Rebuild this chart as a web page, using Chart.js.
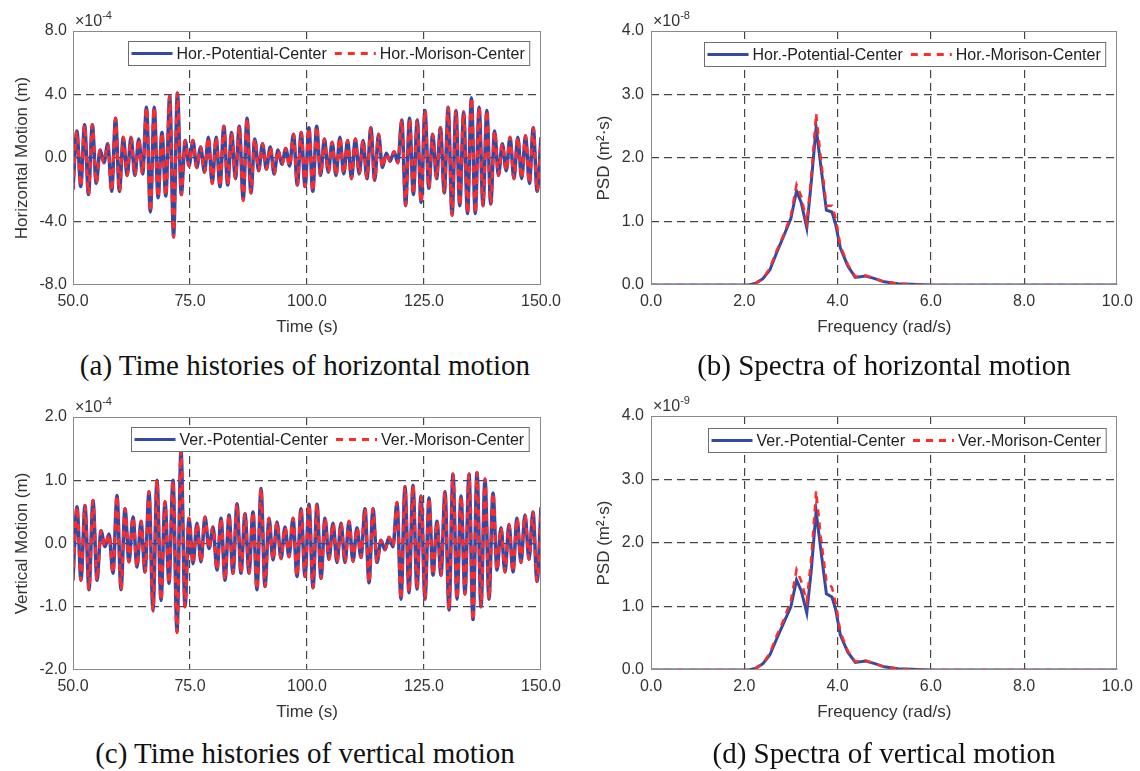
<!DOCTYPE html>
<html>
<head>
<meta charset="utf-8">
<script src="https://cdn.jsdelivr.net/npm/chart.js@4.4.0/dist/chart.umd.min.js"></script>
<style>
  body { margin: 0; background: #fff; }
  #page { position: relative; width: 1140px; height: 771px; overflow: hidden; background: #fff; }
  canvas { position: absolute; }
  .caption {
    position: absolute; width: 560px; text-align: center; white-space: nowrap;
    font-family: "Liberation Serif", "Times New Roman", serif; font-size: 29px; line-height: 30px; color: #111;
  }
</style>
</head>
<body>
<div id="page">
  <canvas id="horTimeChart" width="570" height="345" style="left:0px;top:0px"></canvas>
  <canvas id="horPsdChart" width="580" height="345" style="left:560px;top:0px"></canvas>
  <canvas id="verTimeChart" width="570" height="345" style="left:0px;top:385px"></canvas>
  <canvas id="verPsdChart" width="580" height="345" style="left:560px;top:385px"></canvas>
  <div class="caption" style="left:25px;top:350px">(a) Time histories of horizontal motion</div>
  <div class="caption" style="left:604px;top:350px">(b) Spectra of horizontal motion</div>
  <div class="caption" style="left:25px;top:738px">(c) Time histories of vertical motion</div>
  <div class="caption" style="left:604px;top:738px">(d) Spectra of vertical motion</div>
</div>
<script>
const horPotential = [
  -2.0, 1.7, -1.8, 2.1, -2.3, 2.1, -1.6, 0.5, -0.3, 0.9,
  -2.1, 2.5, -2.1, 1.3, -1.1, 1.3, -1.1, 1.2, -1.0, 3.2,
  -3.4, 3.2, -2.5, 1.6, -2.4, 3.9, -4.9, 4.1, -2.3, 1.1,
  -0.5, 1.1, -0.6, 0.7, -0.9, 1.3, -1.6, 1.3, -1.8, 2.0,
  -1.7, 1.6, -1.3, 2.0, -2.6, 2.5, -2.2, 1.2, -0.8, 0.9,
  -0.7, 0.7, -1.0, 0.5, -0.4, 0.6,
  -0.5, 1.5, -1.7, 1.6, -1.8, 1.9, -2.1, 2.0, -1.1, 1.2,
  -0.9, 1.0, -1.1, 1.3, -1.0, 1.1, -1.3, 1.2, -1.0, 1.1,
  -1.3, 1.9, -1.4, 1.5, -0.6, 0.3, -0.2, 0.4, -0.3, 2.4,
  -3.0, 2.5, -2.3, 2.4, -2.8, 3.0, -1.9, 1.5, -1.3, 1.9,
  -2.2, 3.2, -3.6, 3.0, -3.0, 2.9, -3.5, 3.8, -3.5, 3.2,
  -3.0, 3.0, -2.9, 1.7, -1.1, 0.9, -0.8, 1.3, -1.3, 1.3,
  -1.3, 1.4, -1.6, 1.9, -2.1, 1.3
];
const horMorison = [
  -2.0, 1.7, -1.8, 2.1, -2.3, 2.1, -1.6, 0.5, -0.3, 0.9,
  -2.1, 2.5, -2.1, 1.3, -1.1, 1.3, -1.1, 1.2, -1.0, 3.2,
  -3.4, 3.2, -2.5, 1.6, -2.4, 3.9, -5.0, 4.1, -2.3, 1.1,
  -0.5, 1.1, -0.6, 0.7, -0.9, 1.3, -1.6, 1.3, -1.8, 2.0,
  -1.7, 1.6, -1.3, 2.0, -2.7, 2.5, -2.2, 1.2, -0.8, 0.9,
  -0.7, 0.7, -1.0, 0.5, -0.4, 0.6,
  -0.5, 1.5, -1.7, 1.6, -1.8, 1.9, -2.1, 2.0, -1.1, 1.2,
  -0.9, 1.0, -1.1, 1.3, -1.0, 1.1, -1.3, 1.2, -1.0, 1.1,
  -1.3, 1.9, -1.4, 1.5, -0.6, 0.3, -0.2, 0.4, -0.3, 2.4,
  -3.0, 2.5, -2.3, 2.4, -2.8, 3.0, -1.9, 1.5, -1.3, 1.9,
  -2.2, 3.2, -3.6, 3.0, -3.0, 2.9, -3.5, 3.8, -3.5, 3.2,
  -3.0, 3.0, -2.9, 1.7, -1.1, 0.9, -0.8, 1.3, -1.3, 1.3,
  -1.3, 1.4, -1.6, 1.9, -2.1, 1.3
];
const verPotential = [
  -0.58, 0.58, -0.58, 0.6, -0.73, 0.68, -0.58, 0.2, -0.05, 0.15,
  -0.47, 0.76, -0.73, 0.55, -0.29, 0.42, -0.37, 0.35, -0.45, 0.82,
  -1.05, 1.0, -0.9, 0.66, -0.63, 1.0, -1.39, 1.47, -1.0, 0.4,
  -0.32, 0.32, -0.29, 0.42, -0.08, 0.26, -0.42, 0.4, -0.58, 0.45,
  -0.47, 0.63, -0.47, 0.47, -0.47, 0.5, -0.73, 0.87, -0.68, 0.4,
  -0.26, 0.34, -0.24, 0.26, -0.21,
  0.4, -0.52, 0.55, -0.52, 0.62, -0.7, 0.62, -0.55, 0.4, -0.25,
  0.32, -0.3, 0.32, -0.3, 0.35, -0.28, 0.25, -0.22, 0.55, -0.62,
  0.55, -0.3, 0.05, -0.1, 0.1, -0.05, 0.65, -0.88, 0.9, -0.78,
  0.92, -0.72, 0.75, -0.88, 0.72, -0.5, 0.35, -0.5, 0.82, -1.05,
  1.1, -0.88, 0.75, -0.8, 1.1, -1.2, 1.12, -1.0, 1.02, -0.88,
  0.8, -0.42, 0.25, -0.45, 0.3, -0.45, 0.4, -0.3, 0.45, -0.25,
  0.5, -0.6, 0.57
];
const verMorison = [
  -0.58, 0.58, -0.58, 0.6, -0.73, 0.68, -0.58, 0.2, -0.05, 0.15,
  -0.47, 0.76, -0.73, 0.55, -0.29, 0.42, -0.37, 0.35, -0.45, 0.82,
  -1.07, 1.0, -0.9, 0.66, -0.63, 1.0, -1.41, 1.47, -1.0, 0.4,
  -0.32, 0.32, -0.29, 0.42, -0.08, 0.26, -0.42, 0.4, -0.58, 0.45,
  -0.47, 0.63, -0.47, 0.47, -0.47, 0.5, -0.73, 0.87, -0.68, 0.4,
  -0.26, 0.34, -0.24, 0.26, -0.21,
  0.4, -0.52, 0.55, -0.52, 0.62, -0.7, 0.62, -0.55, 0.4, -0.25,
  0.32, -0.3, 0.32, -0.3, 0.35, -0.28, 0.25, -0.22, 0.55, -0.62,
  0.55, -0.3, 0.05, -0.1, 0.1, -0.05, 0.65, -0.88, 0.9, -0.78,
  0.92, -0.72, 0.75, -0.88, 0.72, -0.5, 0.35, -0.5, 0.82, -1.05,
  1.1, -0.88, 0.75, -0.8, 1.1, -1.22, 1.12, -1.0, 1.02, -0.88,
  0.8, -0.42, 0.25, -0.45, 0.3, -0.45, 0.4, -0.3, 0.45, -0.25,
  0.5, -0.6, 0.57
];

// Spectra: frequency (rad/s) and PSD values (x1e-8 for horizontal, x1e-9 for vertical)
const frequency = [0, 1.0, 2.0, 2.1, 2.25, 2.4, 2.55, 2.7, 2.85, 3.0, 3.12, 3.22, 3.34, 3.44, 3.54,
  3.64, 3.76, 3.88, 3.96, 4.06, 4.22, 4.38, 4.6, 4.8, 5.0, 5.3, 5.6, 6.0, 8.0, 10.0];
const horPsdPotential = [0, 0, 0, 0, 0.03, 0.1, 0.24, 0.52, 0.78, 1.05, 1.48, 1.3, 0.9, 1.65, 2.48,
  1.88, 1.18, 1.15, 0.95, 0.58, 0.3, 0.12, 0.14, 0.1, 0.05, 0.02, 0.01, 0, 0, 0];
const horPsdMorison = [0, 0, 0, 0, 0.03, 0.1, 0.27, 0.55, 0.8, 1.1, 1.58, 1.4, 0.98, 1.75, 2.7,
  2.0, 1.25, 1.25, 1.05, 0.62, 0.32, 0.13, 0.15, 0.1, 0.05, 0.02, 0.01, 0, 0, 0];
const verPsdPotential = [0, 0, 0, 0, 0.03, 0.1, 0.24, 0.5, 0.75, 1.0, 1.42, 1.25, 0.9, 1.6, 2.5,
  1.9, 1.2, 1.15, 0.95, 0.55, 0.28, 0.12, 0.14, 0.1, 0.05, 0.02, 0.01, 0, 0, 0];
const verPsdMorison = [0, 0, 0, 0, 0.03, 0.1, 0.27, 0.55, 0.8, 1.1, 1.58, 1.4, 1.08, 1.8, 2.82,
  2.1, 1.4, 1.3, 1.05, 0.6, 0.3, 0.13, 0.15, 0.1, 0.05, 0.02, 0.01, 0, 0, 0];

const xTicksTime = [50, 150, 25];
const xTicksFreq = [0, 10, 2];

const FONT = '"Liberation Sans", Arial, Helvetica, sans-serif';
const BLUE = '#3349a6';
const RED = '#ff2b2b';
const TEXT = '#333333';

Chart.defaults.font.family = FONT;

// evenly spaced sample times for a time history
function sampleTimes(values) {
  return values.map((v, i) => 50 + i * 100 / (values.length - 1));
}

function toPoints(xs, ys) {
  return xs.map((x, i) => ({ x: x, y: ys[i] }));
}

// Box around the plot, the x10^n label and a MATLAB-like legend
const framePlugin = {
  id: 'frame',
  afterDraw(chart, args, opts) {
    const ctx = chart.ctx;
    const a = chart.chartArea;
    ctx.save();
    ctx.strokeStyle = '#8a8a8a';
    ctx.lineWidth = 1;
    ctx.setLineDash([]);
    ctx.strokeRect(Math.round(a.left) + 0.5, Math.round(a.top) + 0.5, Math.round(a.width) - 1, Math.round(a.height) - 1);

    // exponent label
    ctx.fillStyle = TEXT;
    ctx.textBaseline = 'alphabetic';
    ctx.textAlign = 'left';
    ctx.font = '16px ' + FONT;
    ctx.fillText('\u00d710', a.left + 2, a.top - 5);
    const w = ctx.measureText('\u00d710').width;
    ctx.font = '11px ' + FONT;
    ctx.fillText(opts.exponent, a.left + 2 + w, a.top - 12);

    // legend
    ctx.font = '16px ' + FONT;
    const items = chart.data.datasets.map(ds => ({
      label: ds.label, color: ds.borderColor, dash: ds.borderDash || [], width: ctx.measureText(ds.label).width
    }));
    const lineLen = 41, gapLine = 4, gapItem = 8, padL = 3, padR = 5, h = 24;
    let total = padL + padR + gapItem * (items.length - 1);
    items.forEach(it => { total += lineLen + gapLine + it.width; });
    const x0 = Math.round(a.right - 12 - total) + 0.5;
    const y0 = Math.round(a.top + opts.legendTop) + 0.5;
    ctx.fillStyle = '#ffffff';
    ctx.fillRect(x0, y0, total, h);
    ctx.strokeStyle = '#6e6e6e';
    ctx.lineWidth = 1;
    ctx.strokeRect(x0, y0, total, h);
    let x = x0 + padL;
    const yc = y0 + h / 2;
    items.forEach(it => {
      ctx.strokeStyle = it.color;
      ctx.lineWidth = 3;
      ctx.setLineDash(it.dash);
      ctx.beginPath();
      ctx.moveTo(x, yc);
      ctx.lineTo(x + lineLen, yc);
      ctx.stroke();
      ctx.setLineDash([]);
      x += lineLen + gapLine;
      ctx.fillStyle = '#222';
      ctx.textBaseline = 'middle';
      ctx.fillText(it.label, x, yc + 1);
      x += it.width + gapItem;
    });
    ctx.restore();
  }
};

function makeChart(id, cfg) {
  const hideEdges = (min, max) => c =>
    (c.tick && (Math.abs(c.tick.value - min) < 1e-9 || Math.abs(c.tick.value - max) < 1e-9)) ? 'rgba(0,0,0,0)' : '#454545';

  return new Chart(document.getElementById(id), {
    type: 'line',
    data: {
      datasets: [
        {
          label: cfg.labels[0],
          data: toPoints(cfg.x1, cfg.y1),
          borderColor: BLUE,
          borderWidth: cfg.lineWidth + 0.5,
          pointRadius: 0,
          cubicInterpolationMode: cfg.smooth ? 'monotone' : 'default',
          tension: 0,
          order: 2,
        },
        {
          label: cfg.labels[1],
          data: toPoints(cfg.x2, cfg.y2),
          borderColor: RED,
          borderWidth: cfg.lineWidth,
          borderDash: [7, 6],
          pointRadius: 0,
          cubicInterpolationMode: cfg.smooth ? 'monotone' : 'default',
          tension: 0,
          order: 1,
        },
      ],
    },
    options: {
      responsive: false,
      animation: false,
      events: [],
      layout: { padding: { left: 0, top: cfg.top, right: cfg.right, bottom: 0 } },
      plugins: {
        legend: { display: false },
        tooltip: { enabled: false },
        frame: { exponent: cfg.exponent, legendTop: cfg.legendTop },
      },
      scales: {
        x: {
          type: 'linear',
          min: cfg.xTicks[0],
          max: cfg.xTicks[1],
          afterFit: s => { s.height = cfg.xHeight; },
          ticks: {
            stepSize: cfg.xTicks[2],
            padding: 7,
            color: TEXT,
            font: { size: 16 },
            maxRotation: 0,
            autoSkip: false,
            callback: v => v.toFixed(1),
          },
          grid: { color: hideEdges(cfg.xTicks[0], cfg.xTicks[1]), lineWidth: 1.2, drawTicks: false },
          border: { display: false, dash: [8, 5] },
          title: { display: true, text: cfg.xTitle, color: TEXT, font: { size: 17 }, padding: { top: 0, bottom: 7 } },
        },
        y: {
          min: cfg.yTicks[0],
          max: cfg.yTicks[1],
          afterFit: s => { s.width = cfg.yWidth; },
          ticks: {
            stepSize: cfg.yTicks[2],
            padding: cfg.yPad,
            color: TEXT,
            font: { size: 16 },
            callback: v => v.toFixed(1),
          },
          grid: { color: hideEdges(cfg.yTicks[0], cfg.yTicks[1]), lineWidth: 1.2, drawTicks: false },
          border: { display: false, dash: [8, 5] },
          title: { display: true, text: cfg.yTitle, color: TEXT, font: { size: 17 }, padding: { top: cfg.yTitlePad, bottom: 0 } },
        },
      },
    },
    plugins: [framePlugin],
  });
}

const horTime = sampleTimes(horPotential);
const verTime = sampleTimes(verPotential);

makeChart('horTimeChart', {
  x1: horTime, y1: horPotential, x2: horTime, y2: horMorison, smooth: true, lineWidth: 3,
  labels: ['Hor.-Potential-Center', 'Hor.-Morison-Center'],
  xTicks: xTicksTime, yTicks: [-8, 8, 4], exponent: '-4',
  xTitle: 'Time (s)', yTitle: 'Horizontal Motion (m)',
  top: 31, right: 29, xHeight: 60, yWidth: 73, yPad: 6, yTitlePad: 12, legendTop: 10,
});

makeChart('horPsdChart', {
  x1: frequency, y1: horPsdPotential, x2: frequency, y2: horPsdMorison, smooth: false, lineWidth: 2.5,
  labels: ['Hor.-Potential-Center', 'Hor.-Morison-Center'],
  xTicks: xTicksFreq, yTicks: [0, 4, 1], exponent: '-8',
  xTitle: 'Frequency (rad/s)', yTitle: 'PSD (m\u00b2\u00b7s)',
  top: 31, right: 22, xHeight: 60, yWidth: 91, yPad: 7, yTitlePad: 34, legendTop: 11,
});

makeChart('verTimeChart', {
  x1: verTime, y1: verPotential, x2: verTime, y2: verMorison, smooth: true, lineWidth: 3,
  labels: ['Ver.-Potential-Center', 'Ver.-Morison-Center'],
  xTicks: xTicksTime, yTicks: [-2, 2, 1], exponent: '-4',
  xTitle: 'Time (s)', yTitle: 'Vertical Motion (m)',
  top: 32, right: 29, xHeight: 60, yWidth: 73, yPad: 6, yTitlePad: 12, legendTop: 10,
});

makeChart('verPsdChart', {
  x1: frequency, y1: verPsdPotential, x2: frequency, y2: verPsdMorison, smooth: false, lineWidth: 2.5,
  labels: ['Ver.-Potential-Center', 'Ver.-Morison-Center'],
  xTicks: xTicksFreq, yTicks: [0, 4, 1], exponent: '-9',
  xTitle: 'Frequency (rad/s)', yTitle: 'PSD (m\u00b2\u00b7s)',
  top: 31, right: 22, xHeight: 60, yWidth: 91, yPad: 7, yTitlePad: 34, legendTop: 12,
});
</script>
</body>
</html>
